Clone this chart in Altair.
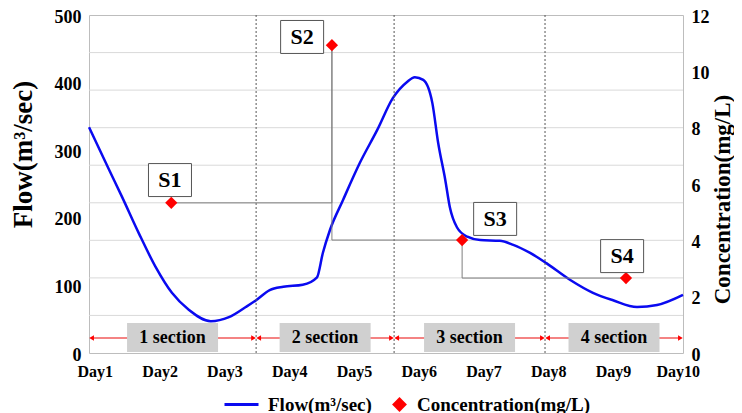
import altair as alt
import pandas as pd

# ---- data ----
days = [0.91, 1.22, 1.42, 1.68, 1.94, 2.19, 2.45, 2.79, 3.07, 3.33, 3.49, 3.70, 3.91,
        4.21, 4.43, 4.52, 4.63, 4.83, 5.09, 5.36, 5.60, 5.82, 5.94, 6.07, 6.21, 6.30,
        6.41, 6.48, 6.59, 6.75, 6.95, 7.25, 7.46, 7.72, 7.97, 8.34, 8.69, 9.00, 9.37,
        9.68, 10.08]
flow = [334, 271, 231, 177, 127, 89, 64, 47, 53, 68, 78, 93, 98,
        101, 112, 148, 182, 226, 281, 330, 377, 401, 408, 404, 370, 311,
        256, 216, 186, 172, 167, 166, 160, 148, 133, 108, 89, 78, 68,
        71, 86]

site_names = ["S1", "S2", "S3", "S4"]
site_day = [2.18, 4.66, 6.67, 9.20]
site_conc = [5.33, 10.93, 4.01, 2.66]
label_day = [2.16, 4.20, 7.18, 9.14]
label_conc = [6.14, 11.22, 4.76, 3.44]

section_names = ["1 section", "2 section", "3 section", "4 section"]
section_bounds = [0.91, 3.49, 5.62, 7.95, 10.08]
section_level = 0.55
arrow_level = 0.53

grid_flow = [55.6, 111.1, 166.7, 222.2, 277.8, 333.3, 388.9, 444.4]
day_ticks = [1, 2, 3, 4, 5, 6, 7, 8, 9, 10]
flow_ticks = [0, 100, 200, 300, 400, 500]
conc_ticks = [0, 2, 4, 6, 8, 10, 12]

FLOW_NAME = "Flow(m³/sec)"
CONC_NAME = "Concentration(mg/L)"
FONT = "Liberation Serif"

# ---- tables ----
flow_df = pd.DataFrame({"day": days, "flow": flow, "series": FLOW_NAME})
site_df = pd.DataFrame({"day": site_day, "conc": site_conc, "series": CONC_NAME})
label_df = pd.DataFrame({"day": label_day, "conc": label_conc, "name": site_names})
grid_df = pd.DataFrame({"flow": grid_flow})

# step connector: S1 -> right to S2, then down to S3 level, right to S3, down, right to S4
step_pts = [(site_day[0], site_conc[0]), (site_day[1], site_conc[0]), (site_day[1], site_conc[1]),
            (site_day[1], site_conc[2]), (site_day[2], site_conc[2]), (site_day[2], site_conc[3]),
            (site_day[3], site_conc[3])]
step_df = pd.DataFrame({"day": [p[0] for p in step_pts], "conc": [p[1] for p in step_pts],
                        "i": list(range(len(step_pts)))})

gap = 0.04
sec_df = pd.DataFrame({
    "name": section_names,
    "start": [section_bounds[i] + gap for i in range(4)],
    "end": [section_bounds[i + 1] - gap for i in range(4)],
    "mid": [(section_bounds[i] + section_bounds[i + 1]) / 2 for i in range(4)],
    "conc": [section_level] * 4,
    "arrow": [arrow_level] * 4,
})
div_df = pd.DataFrame({"day": section_bounds[1:4]})

xscale = alt.Scale(domain=[section_bounds[0], section_bounds[-1]], nice=False, zero=False)
flow_scale = alt.Scale(domain=[0, 500], nice=False)
conc_scale = alt.Scale(domain=[0, 12], nice=False)

axis_style = dict(labelFont=FONT, labelFontWeight="bold", labelColor="black",
                  titleFont=FONT, titleFontWeight="bold", titleColor="black",
                  domain=False, ticks=False, grid=False)
AX_X = alt.Axis(values=day_ticks, labelExpr="'Day' + datum.value", title=None,
                labelFontSize=16, labelPadding=10, labelFlush=False, **axis_style)
AX_FLOW = alt.Axis(values=flow_ticks, title=FLOW_NAME, orient="left",
                   labelFontSize=18, labelPadding=8, labelOffset=2, titleFontSize=27,
                   titleAngle=270, titleX=-66, titleY=139, titleAlign="center",
                   titleBaseline="middle", **axis_style)
AX_CONC = alt.Axis(values=conc_ticks, title=CONC_NAME, orient="right",
                   labelFontSize=18, labelPadding=8, labelOffset=2, titleFontSize=23,
                   titleAngle=270, titleX=39, titleY=184, titleAlign="center",
                   titleBaseline="middle", **axis_style)

legend_common = dict(title=None, orient="none", labelFont=FONT, labelFontSize=19,
                     labelFontWeight="bold", labelColor="black", labelOffset=8, labelLimit=400)


def X(field):
    return alt.X(field, type="quantitative", scale=xscale, axis=AX_X)


def YC(field):
    return alt.Y(field, type="quantitative", scale=conc_scale, axis=AX_CONC)


# ---- flow group (left axis) ----
grid = alt.Chart(grid_df).mark_rule(color="#d9d9d9", strokeWidth=1).encode(
    y=alt.Y("flow:Q", scale=flow_scale, axis=AX_FLOW)
)
flow_line = alt.Chart(flow_df).mark_line(strokeWidth=2.5, interpolate="monotone").encode(
    x=X("day"),
    y=alt.Y("flow:Q", scale=flow_scale, axis=AX_FLOW),
    stroke=alt.Stroke("series:N", scale=alt.Scale(domain=[FLOW_NAME], range=["#0a0af0"]),
                      legend=alt.Legend(symbolType="stroke", symbolSize=1156, symbolStrokeWidth=3,
                                        legendX=134, legendY=371, **legend_common)),
)
flow_group = alt.layer(grid, flow_line)

# ---- concentration group (right axis) ----
dividers = alt.Chart(div_df).mark_rule(color="#555555", strokeDash=[2, 2], strokeWidth=1).encode(
    x=X("day")
)
arrows = alt.Chart(sec_df).mark_rule(color="#f05a5a", strokeWidth=1.5).encode(
    x=X("start"), x2="end:Q", y=YC("arrow"),
)
heads_l = alt.Chart(sec_df).mark_point(shape="triangle-left", filled=True, color="#ff0000",
                                       size=30, opacity=1).encode(
    x=X("start"), y=YC("arrow"),
)
heads_r = alt.Chart(sec_df).mark_point(shape="triangle-right", filled=True, color="#ff0000",
                                       size=30, opacity=1).encode(
    x=X("end"), y=YC("arrow"),
)
sec_boxes = alt.Chart(sec_df).mark_point(
    shape="M-1,-0.32L1,-0.32L1,0.32L-1,0.32Z", size=8281, filled=True,
    color="#d0d0d0", opacity=1).encode(
    x=X("mid"), y=YC("conc"),
)
sec_text = alt.Chart(sec_df).mark_text(font=FONT, fontSize=18, fontWeight="bold",
                                       color="black", baseline="middle").encode(
    x=X("mid"), y=YC("conc"), text="name:N",
)
steps = alt.Chart(step_df).mark_line(color="#7f7f7f", strokeWidth=1).encode(
    x=X("day"), y=YC("conc"), order="i:Q"
)
diamonds = alt.Chart(site_df).mark_point(shape="diamond", filled=True, size=150, opacity=1).encode(
    x=X("day"),
    y=YC("conc"),
    fill=alt.Fill("series:N", scale=alt.Scale(domain=[CONC_NAME], range=["#ff0000"]),
                  legend=alt.Legend(symbolType="diamond", symbolSize=220,
                                    legendX=301, legendY=380, **legend_common)),
)
lab_boxes = alt.Chart(label_df).mark_point(
    shape="M-1,-0.767L1,-0.767L1,0.767L-1,0.767Z", size=1849, filled=False,
    color="#555555", strokeWidth=1, fill="white", fillOpacity=1, opacity=1).encode(
    x=X("day"), y=YC("conc")
)
lab_text = alt.Chart(label_df).mark_text(font=FONT, fontSize=22, fontWeight="bold",
                                         color="black", baseline="middle").encode(
    x=X("day"), y=YC("conc"), text="name:N"
)
conc_group = alt.layer(dividers, arrows, heads_l, heads_r, sec_boxes, sec_text,
                       steps, diamonds, lab_boxes, lab_text)

chart = alt.layer(flow_group, conc_group).resolve_scale(y="independent").properties(
    width=594, height=338,
    background="white",
    autosize=alt.AutoSizeParams(type="none"),
    padding={"left": 81, "top": 7, "right": 51, "bottom": 60},
).configure_view(stroke="#bdbdbd", strokeWidth=1)

chart.save("out.html", embed_options={"renderer": "svg", "actions": False})
